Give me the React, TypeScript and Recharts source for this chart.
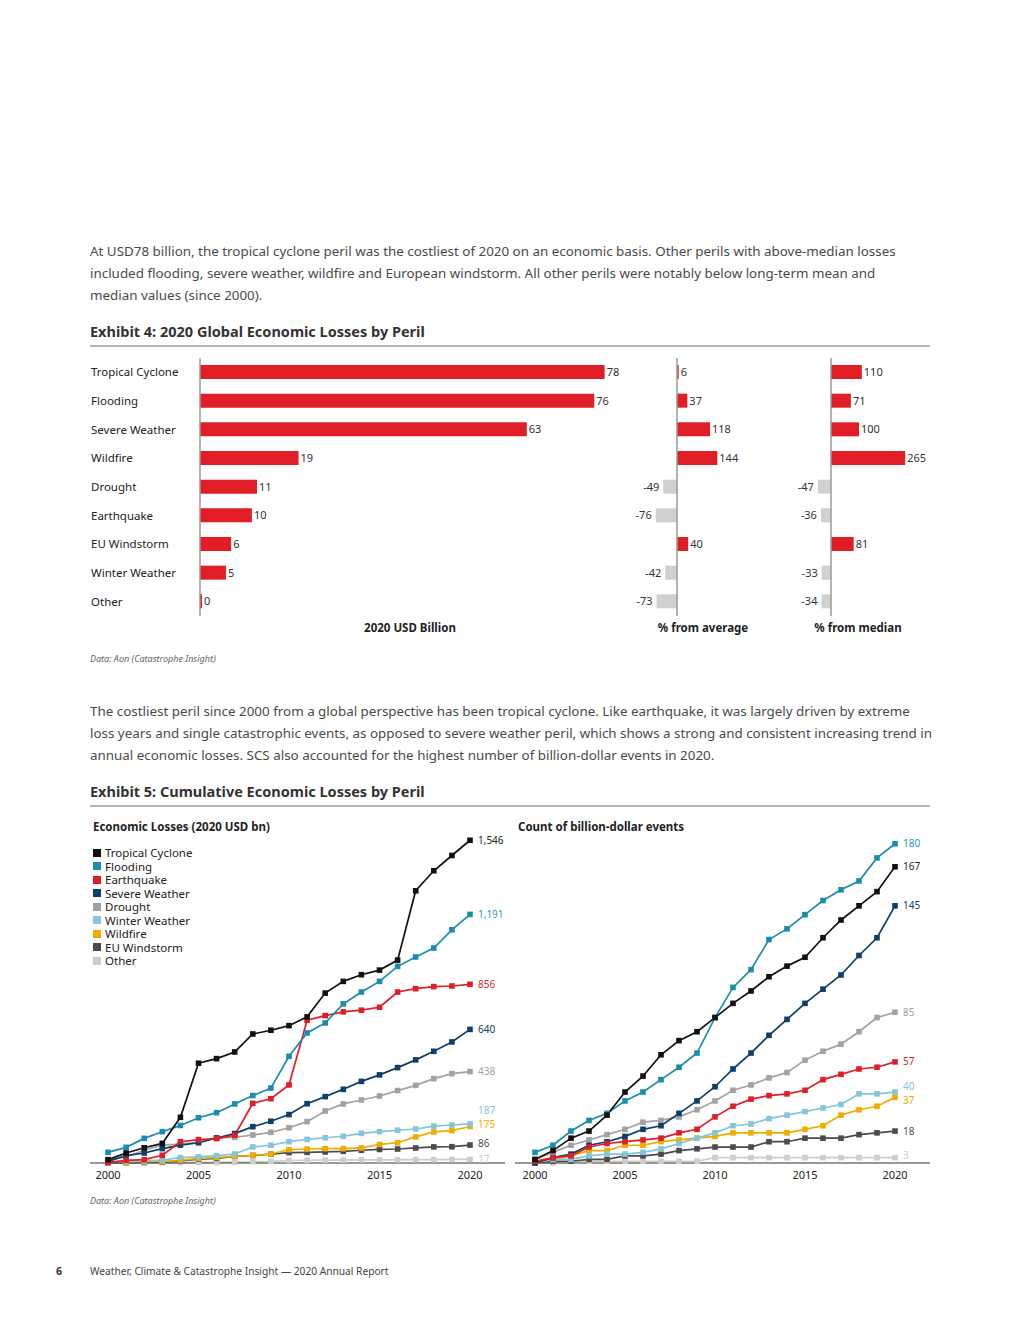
import React from 'react';
import { BarChart, Bar, XAxis, YAxis, Cell, LabelList, ReferenceLine, LineChart, Line } from 'recharts';

const FONT = '"Noto Sans", "Open Sans", Arial, sans-serif';
const RED = '#e11d26';
const NEG_GREY = '#d0d0d0';

// Exhibit 4
const perils = ['Tropical Cyclone', 'Flooding', 'Severe Weather', 'Wildfire', 'Drought', 'Earthquake', 'EU Windstorm', 'Winter Weather', 'Other'];
const losses2020 = [78, 76, 63, 19, 11, 10, 6, 5, 0];
const pctFromAverage = [6, 37, 118, 144, -49, -76, 40, -42, -73];
const pctFromMedian = [110, 71, 100, 265, -47, -36, 81, -33, -34];

// Exhibit 5
const years = [2000, 2001, 2002, 2003, 2004, 2005, 2006, 2007, 2008, 2009, 2010, 2011, 2012, 2013, 2014, 2015, 2016, 2017, 2018, 2019, 2020];
const yearTicks = [2000, 2005, 2010, 2015, 2020];

// cumulative economic losses, 2020 USD bn
const lossTropicalCyclone = [16, 48, 73, 94, 219, 478, 500, 532, 618, 636, 658, 700, 814, 870, 902, 924, 972, 1304, 1400, 1473, 1546];
const lossFlooding = [51, 75, 118, 150, 180, 217, 241, 283, 323, 359, 511, 623, 671, 762, 819, 870, 942, 987, 1030, 1117, 1191];
const lossEarthquake = [3, 13, 16, 37, 102, 112, 117, 133, 286, 308, 374, 684, 706, 724, 732, 746, 819, 835, 845, 848, 856];
const lossSevereWeather = [8, 35, 48, 69, 86, 97, 120, 141, 174, 200, 232, 284, 318, 353, 391, 422, 457, 494, 535, 580, 640];
const lossDrought = [13, 30, 61, 86, 91, 99, 121, 123, 134, 147, 169, 198, 249, 283, 302, 321, 347, 372, 404, 428, 438];
const lossWinterWeather = [3, 8, 10, 14, 26, 30, 35, 43, 77, 85, 102, 113, 121, 128, 142, 150, 157, 163, 177, 182, 187];
const lossWildfire = [2, 3, 5, 6, 13, 22, 26, 32, 37, 43, 64, 67, 69, 69, 72, 89, 97, 125, 149, 155, 175];
const lossEuWindstorm = [1, 2, 3, 5, 10, 19, 22, 32, 36, 42, 50, 51, 53, 56, 61, 65, 67, 72, 77, 78, 86];
const lossOther = [0, 1, 1, 2, 2, 3, 3, 4, 6, 8, 12, 13, 14, 14, 15, 15, 15, 16, 16, 17, 17];

// cumulative count of billion-dollar events
const countTropicalCyclone = [2, 7, 14, 18, 27, 40, 49, 61, 69, 74, 82, 90, 97, 105, 111, 116, 127, 137, 145, 153, 167];
const countFlooding = [6, 10, 18, 24, 28, 35, 40, 47, 54, 62, 82, 99, 109, 126, 132, 140, 148, 154, 159, 172, 180];
const countEarthquake = [1, 3, 4, 9, 11, 12, 13, 14, 17, 19, 26, 32, 36, 38, 39, 41, 47, 50, 53, 54, 57];
const countSevereWeather = [0, 3, 5, 10, 12, 15, 19, 21, 28, 35, 43, 53, 62, 72, 81, 90, 98, 106, 117, 127, 145];
const countDrought = [2, 6, 10, 13, 16, 19, 23, 24, 26, 30, 35, 41, 44, 48, 51, 58, 63, 67, 74, 82, 85];
const countWinterWeather = [1, 2, 2, 4, 5, 5, 6, 8, 11, 14, 17, 21, 22, 25, 27, 29, 31, 33, 39, 39, 40];
const countWildfire = [0, 2, 4, 7, 7, 10, 10, 12, 13, 14, 15, 17, 17, 17, 17, 19, 21, 27, 30, 32, 37];
const countEuWindstorm = [0, 1, 1, 2, 2, 4, 4, 5, 7, 8, 9, 9, 9, 12, 12, 14, 14, 14, 16, 17, 18];
const countOther = [0, 0, 1, 1, 1, 1, 1, 1, 1, 1, 3, 3, 3, 3, 3, 3, 3, 3, 3, 3, 3];

const seriesStyle = [
  { key: 'tc', name: 'Tropical Cyclone', color: '#111111', labelColor: '#222222' },
  { key: 'fl', name: 'Flooding', color: '#1b8cae', labelColor: '#2a98b8' },
  { key: 'eq', name: 'Earthquake', color: '#e01e27', labelColor: '#e01e27' },
  { key: 'sw', name: 'Severe Weather', color: '#0d3e6c', labelColor: '#0d3e6c' },
  { key: 'dr', name: 'Drought', color: '#a2a2a2', labelColor: '#a2a2a2' },
  { key: 'ww', name: 'Winter Weather', color: '#83c5d9', labelColor: '#83c5d9' },
  { key: 'wf', name: 'Wildfire', color: '#f0ad00', labelColor: '#f0ad00' },
  { key: 'eu', name: 'EU Windstorm', color: '#4b4b4b', labelColor: '#4b4b4b' },
  { key: 'ot', name: 'Other', color: '#cdcdcd', labelColor: '#cdcdcd' },
];

// vertical nudges of the end labels so they don't collide
const lossLabelDy: Record<string, number> = { ww: -13, wf: -2, eu: -2, ot: 0 };
const countLabelDy: Record<string, number> = { ww: -6, wf: 3, ot: -2 };

const barRows = perils.map((peril, i) => ({
  peril,
  loss: losses2020[i],
  avg: pctFromAverage[i],
  med: pctFromMedian[i],
}));

const lossRows = years.map((year, i) => ({
  year,
  tc: lossTropicalCyclone[i],
  fl: lossFlooding[i],
  eq: lossEarthquake[i],
  sw: lossSevereWeather[i],
  dr: lossDrought[i],
  ww: lossWinterWeather[i],
  wf: lossWildfire[i],
  eu: lossEuWindstorm[i],
  ot: lossOther[i],
}));

const countRows = years.map((year, i) => ({
  year,
  tc: countTropicalCyclone[i],
  fl: countFlooding[i],
  eq: countEarthquake[i],
  sw: countSevereWeather[i],
  dr: countDrought[i],
  ww: countWinterWeather[i],
  wf: countWildfire[i],
  eu: countEuWindstorm[i],
  ot: countOther[i],
}));

const Txt = ({ x, y, size, lh, children, bold, italic, color, anchor }: any) => {
  const style: React.CSSProperties = {
    position: 'absolute',
    top: y - lh / 2,
    fontSize: size,
    lineHeight: lh + 'px',
    fontWeight: bold ? 700 : 400,
    fontStyle: italic ? 'italic' : 'normal',
    color: color || '#333',
    whiteSpace: 'nowrap',
    fontFamily: FONT,
  };
  if (anchor === 'middle') {
    style.left = x - 200;
    style.width = 400;
    style.textAlign = 'center';
  } else {
    style.left = x;
  }
  return <div style={style}>{children}</div>;
};

const PerilTick = (props: any) => (
  <text x={1} y={props.y} dy={4} fontSize={11.5} fill="#222" fontFamily={FONT}>
    {props.payload.value}
  </text>
);

const barValue = (props: any) => {
  const vb = props.viewBox || props;
  const x = vb.x ?? props.x;
  const y = vb.y ?? props.y;
  const w = vb.width ?? props.width ?? 0;
  const h = vb.height ?? props.height ?? 0;
  const value = props.value;
  const left = Math.min(x, x + w);
  const right = Math.max(x, x + w);
  const neg = value < 0;
  return (
    <text
      x={neg ? left - 4 : right + 2}
      y={y + h / 2}
      dy={4}
      textAnchor={neg ? 'end' : 'start'}
      fontSize={11}
      fill="#333"
      fontFamily={FONT}
    >
      {value}
    </text>
  );
};

const SquareDot = (props: any) => {
  const { cx, cy, stroke } = props;
  if (cx == null || cy == null) return null;
  return <rect x={cx - 2.8} y={cy - 2.8} width={5.6} height={5.6} fill={stroke} />;
};

const endLabel = (color: string, dy: number) => (props: any) => {
  if (props.index !== years.length - 1) return null;
  const vb = props.viewBox || {};
  const x = props.x ?? vb.x;
  const y = props.y ?? vb.y;
  return (
    <text x={x + 8} y={y + dy} dy={3.5} fontSize={10} fill={color} fontFamily={FONT}>
      {Number(props.value).toLocaleString('en-US')}
    </text>
  );
};

const DeviationChart = ({ left, dataKey, domain, plotWidth }: any) => (
  <div style={{ position: 'absolute', left, top: 358 }}>
    <BarChart width={plotWidth + 80} height={258} data={barRows} layout="vertical" margin={{ top: 0, right: 40, bottom: 0, left: 40 }}>
      <XAxis type="number" domain={domain} hide />
      <YAxis type="category" dataKey="peril" hide />
      <ReferenceLine x={0} stroke="#9a9a9a" strokeWidth={1.5} />
      <Bar dataKey={dataKey} barSize={14} isAnimationActive={false}>
        {barRows.map((r: any, i) => (
          <Cell key={i} fill={r[dataKey] < 0 ? NEG_GREY : RED} />
        ))}
        <LabelList dataKey={dataKey} content={barValue} />
      </Bar>
    </BarChart>
  </div>
);

const CumulativeChart = ({ left, top, rows, yMax, plotHeight, padLeft, labelDy }: any) => (
  <div style={{ position: 'absolute', left, top }}>
    <LineChart width={415} height={plotHeight + 24} data={rows} margin={{ top: 0, right: 0, bottom: 0, left: 0 }}>
      <XAxis
        dataKey="year"
        type="number"
        domain={[2000, 2020]}
        ticks={yearTicks}
        interval={0}
        padding={{ left: padLeft, right: 35 }}
        axisLine={{ stroke: '#333', strokeWidth: 1 }}
        tickLine={false}
        height={24}
        tick={{ fontSize: 11, fill: '#222', fontFamily: FONT }}
      />
      <YAxis hide domain={[0, yMax]} />
      {[...seriesStyle].reverse().map((s) => (
        <Line
          key={s.key}
          dataKey={s.key}
          stroke={s.color}
          strokeWidth={1.7}
          dot={<SquareDot />}
          activeDot={false}
          isAnimationActive={false}
        >
          <LabelList dataKey={s.key} content={endLabel(s.labelColor, labelDy[s.key] || 0)} />
        </Line>
      ))}
    </LineChart>
  </div>
);

const PText = '#4a4a4a';
const PSize = 13.4;

export default function App() {
  return (
    <div style={{ position: 'absolute', left: 0, top: 0, width: 1020, height: 1320, background: '#fff', fontFamily: FONT, overflow: 'hidden' }}>
      <Txt x={90} y={251} size={PSize} lh={22} color={PText}>At USD78 billion, the tropical cyclone peril was the costliest of 2020 on an economic basis. Other perils with above-median losses</Txt>
      <Txt x={90} y={273} size={PSize} lh={22} color={PText}>included flooding, severe weather, wildfire and European windstorm. All other perils were notably below long-term mean and</Txt>
      <Txt x={90} y={295} size={PSize} lh={22} color={PText}>median values (since 2000).</Txt>

      <Txt x={90} y={331} size={14.5} lh={20} bold color="#333">Exhibit 4: 2020 Global Economic Losses by Peril</Txt>
      <div style={{ position: 'absolute', left: 90, top: 345, width: 840, height: 1.5, background: '#b4b4b4' }} />

      <div style={{ position: 'absolute', left: 90, top: 358 }}>
        <BarChart width={565} height={258} data={barRows} layout="vertical" margin={{ top: 0, right: 40, bottom: 0, left: 0 }}>
          <XAxis type="number" domain={[0, 80]} hide />
          <YAxis
            type="category"
            dataKey="peril"
            width={110}
            interval={0}
            axisLine={{ stroke: '#9a9a9a', strokeWidth: 1.5 }}
            tickLine={false}
            tick={<PerilTick />}
          />
          <Bar dataKey="loss" fill={RED} barSize={14} minPointSize={2} isAnimationActive={false}>
            <LabelList dataKey="loss" content={barValue} />
          </Bar>
        </BarChart>
      </div>
      <DeviationChart left={609} dataKey="avg" domain={[-100, 200]} plotWidth={84} />
      <DeviationChart left={763} dataKey="med" domain={[-100, 300]} plotWidth={112} />

      <Txt x={410} y={628} size={11.5} lh={16} bold color="#222" anchor="middle">2020 USD Billion</Txt>
      <Txt x={703} y={628} size={11.5} lh={16} bold color="#222" anchor="middle">% from average</Txt>
      <Txt x={858} y={628} size={11.5} lh={16} bold color="#222" anchor="middle">% from median</Txt>
      <Txt x={90} y={659} size={9} lh={14} italic color="#666">Data: Aon (Catastrophe Insight)</Txt>

      <Txt x={90} y={711} size={PSize} lh={22} color={PText}>The costliest peril since 2000 from a global perspective has been tropical cyclone. Like earthquake, it was largely driven by extreme</Txt>
      <Txt x={90} y={733} size={PSize} lh={22} color={PText}>loss years and single catastrophic events, as opposed to severe weather peril, which shows a strong and consistent increasing trend in</Txt>
      <Txt x={90} y={755} size={PSize} lh={22} color={PText}>annual economic losses. SCS also accounted for the highest number of billion-dollar events in 2020.</Txt>

      <Txt x={90} y={791} size={14.5} lh={20} bold color="#333">Exhibit 5: Cumulative Economic Losses by Peril</Txt>
      <div style={{ position: 'absolute', left: 90, top: 805, width: 840, height: 1.5, background: '#b4b4b4' }} />

      <CumulativeChart left={90} top={829} rows={lossRows} yMax={1600} plotHeight={334} padLeft={18} labelDy={lossLabelDy} />
      <CumulativeChart left={515} top={826} rows={countRows} yMax={190} plotHeight={337} padLeft={20} labelDy={countLabelDy} />

      <Txt x={93} y={827} size={11.5} lh={16} bold color="#222">Economic Losses (2020 USD bn)</Txt>
      <Txt x={518} y={827} size={11.5} lh={16} bold color="#222">Count of billion-dollar events</Txt>

      <div style={{ position: 'absolute', left: 93, top: 846 }}>
        {seriesStyle.map((s) => (
          <div key={s.key} style={{ height: 13.5, display: 'flex', alignItems: 'center', fontSize: 11.5, color: '#222', whiteSpace: 'nowrap' }}>
            <span style={{ width: 8, height: 8, background: s.color, marginRight: 4, display: 'inline-block' }} />
            {s.name}
          </div>
        ))}
      </div>

      <Txt x={90} y={1201} size={9} lh={14} italic color="#666">Data: Aon (Catastrophe Insight)</Txt>
      <Txt x={56} y={1271} size={10.5} lh={14} bold color="#333">6</Txt>
      <Txt x={90} y={1271} size={10.2} lh={14} color="#444">Weather, Climate &amp; Catastrophe Insight — 2020 Annual Report</Txt>
    </div>
  );
}
